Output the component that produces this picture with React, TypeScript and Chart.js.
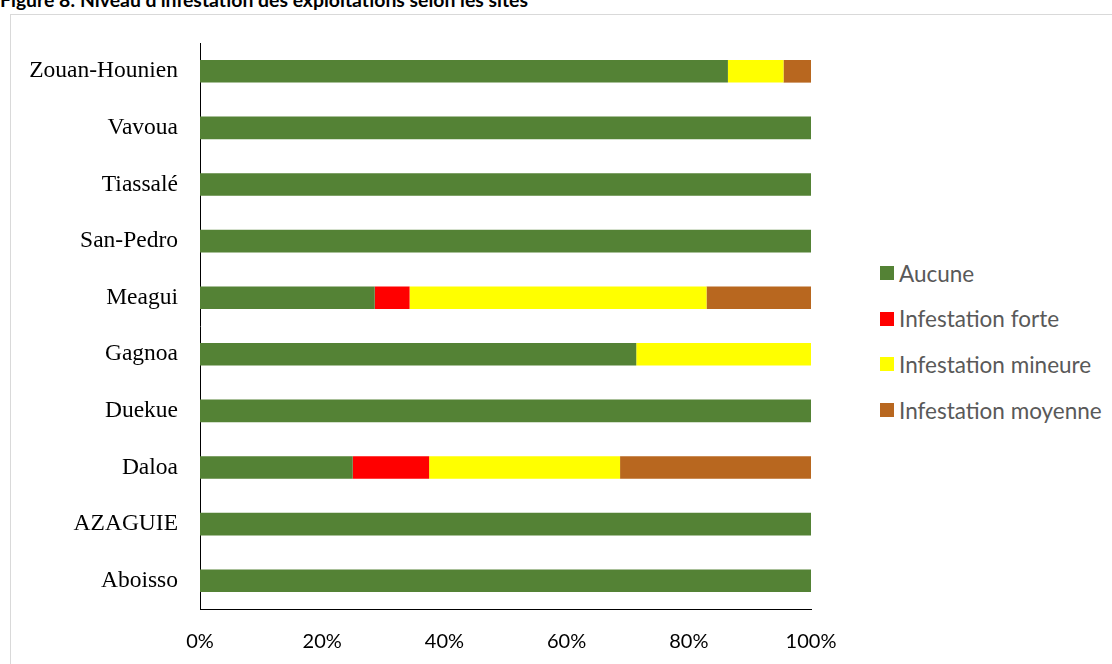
import React, { useEffect, useRef } from "react";
import { Chart, registerables } from "chart.js";

Chart.register(...registerables);

const TITLE = "Figure 8: Niveau d'infestation des exploitations selon les sites";

const sites = [
  "Zouan-Hounien",
  "Vavoua",
  "Tiassalé",
  "San-Pedro",
  "Meagui",
  "Gagnoa",
  "Duekue",
  "Daloa",
  "AZAGUIE",
  "Aboisso",
];

const seriesNames = ["Aucune", "Infestation forte", "Infestation mineure", "Infestation moyenne"];
const seriesColors = ["#548235", "#FF0000", "#FFFF00", "#B8671F"];

const aucune = [86.4, 100, 100, 100, 28.6, 71.4, 100, 25.0, 100, 100];
const forte = [0, 0, 0, 0, 5.7, 0, 0, 12.5, 0, 0];
const mineure = [9.1, 0, 0, 0, 48.6, 28.6, 0, 31.25, 0, 0];
const moyenne = [4.5, 0, 0, 0, 17.1, 0, 0, 31.25, 0, 0];

const xTicks = [0, 20, 40, 60, 80, 100];

export default function App() {
  const canvasRef = useRef<HTMLCanvasElement | null>(null);

  useEffect(() => {
    document.body.style.margin = "0";
    const ctx = canvasRef.current;
    if (!ctx) return;
    const values = [aucune, forte, mineure, moyenne];
    const chart = new Chart(ctx, {
      type: "bar",
      data: {
        labels: sites,
        datasets: seriesNames.map((name, i) => ({
          label: name,
          data: values[i],
          backgroundColor: seriesColors[i],
          borderWidth: 0,
          barPercentage: 0.4,
          categoryPercentage: 1,
        })),
      },
      options: {
        indexAxis: "y",
        responsive: false,
        animation: false,
        maintainAspectRatio: false,
        layout: { padding: { top: 28, right: 49, bottom: 10, left: 0 } },
        plugins: {
          legend: { display: false },
          tooltip: { enabled: false },
          title: { display: false },
        },
        scales: {
          x: {
            stacked: true,
            min: 0,
            max: 100,
            afterBuildTicks: (scale: any) => {
              scale.ticks = xTicks.map((v) => ({ value: v }));
            },
            afterFit: (scale: any) => {
              scale.height = 45;
            },
            grid: { display: false, drawTicks: false },
            border: { display: true, color: "#000000", width: 1 },
            ticks: {
              padding: 21,
              color: "#000000",
              font: { family: "Lato", size: 20 },
              callback: (v: any) => v + "%",
              maxRotation: 0,
              autoSkip: false,
            },
          },
          y: {
            stacked: true,
            afterFit: (scale: any) => {
              scale.width = 190;
              scale.paddingTop = 0;
              scale.paddingBottom = 0;
            },
            grid: { display: false, drawTicks: false },
            border: { display: true, color: "#000000", width: 1 },
            ticks: {
              padding: 22,
              color: "#000000",
              font: { family: "'Liberation Serif'", size: 23.5 },
              autoSkip: false,
            },
          },
        },
      },
    });
    return () => chart.destroy();
  }, []);

  return (
    <div style={{ position: "relative", width: 1112, height: 664, overflow: "hidden", background: "#fff" }}>
      <div
        style={{
          position: "absolute",
          left: 0,
          top: -12,
          fontFamily: "Lato",
          fontWeight: "bold",
          fontSize: 19.4,
          lineHeight: 1.2,
          color: "#000",
          whiteSpace: "nowrap",
        }}
      >
        {TITLE}
      </div>
      <div
        style={{
          position: "absolute",
          left: 10,
          top: 14,
          width: 1200,
          height: 800,
          border: "1px solid #d9d9d9",
          boxSizing: "border-box",
        }}
      />
      <canvas
        ref={canvasRef}
        width={850}
        height={649}
        style={{ position: "absolute", left: 10, top: 15, width: 850, height: 649 }}
      />
      {seriesNames.map((name, i) => (
        <div
          key={name}
          style={{
            position: "absolute",
            left: 880,
            top: 273 + i * 45.7 - 15,
            height: 30,
            display: "flex",
            alignItems: "center",
            whiteSpace: "nowrap",
          }}
        >
          <span style={{ display: "inline-block", width: 14, height: 14, background: seriesColors[i], marginRight: 5 }} />
          <span style={{ fontFamily: "Lato", fontSize: 22.5, color: "#595959" }}>{name}</span>
        </div>
      ))}
    </div>
  );
}
